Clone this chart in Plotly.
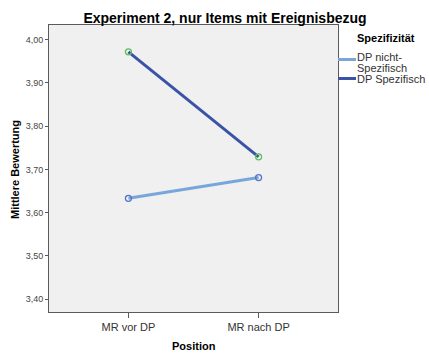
import plotly.graph_objects as go

# Data
positions = ["MR vor DP", "MR nach DP"]
series_names = ["DP nicht-<br>Spezifisch", "DP Spezifisch"]
values_nicht_spez = [3.633, 3.681]
values_spez = [3.972, 3.729]
line_colors = ["#79a6da", "#3b53a6"]
marker_colors = ["#5574c8", "#5cc05c"]
y_ticks = [3.4, 3.5, 3.6, 3.7, 3.8, 3.9, 4.0]

W, H = 429, 353
L, R, T, B = 49, 338, 25, 312
PW, PH = R - L, B - T

def px(x):
    return (x - L) / PW

def py(y):
    return (B - y) / PH

fig = go.Figure()
for name, vals, lc, mc in zip(series_names, [values_nicht_spez, values_spez], line_colors, marker_colors):
    fig.add_trace(go.Scatter(
        x=[0, 1], y=vals, mode="lines+markers", name=name,
        line=dict(color=lc, width=3),
        marker=dict(symbol="circle-open", size=6, color=mc, line=dict(width=1.3, color=mc)),
        showlegend=False,
    ))

font = "Liberation Sans, Arial, sans-serif"
fig.update_layout(
    width=W, height=H,
    margin=dict(l=L, r=W - R, t=T, b=H - B),
    paper_bgcolor="white", plot_bgcolor="#f0f0f0",
    separators=",.",
    font=dict(family=font, color="#333"),
    title=dict(text="<b>Experiment 2, nur Items mit Ereignisbezug</b>",
               font=dict(size=14, color="black", family=font),
               xref="container", x=225 / W, xanchor="center",
               yref="container", y=(H - 18) / H, yanchor="middle"),
    xaxis=dict(
        range=[-0.61, 1.61], tickvals=[0, 1], ticktext=positions,
        showgrid=False, zeroline=False,
        showline=True, linecolor="#5a5a5a", linewidth=1, mirror=True,
        ticks="outside", ticklen=5, tickcolor="#5a5a5a",
        tickfont=dict(size=11, color="#333", family=font),
    ),
    yaxis=dict(
        range=[3.37, 4.034], tickvals=y_ticks, tickformat=".2f",
        showgrid=False, zeroline=False,
        showline=True, linecolor="#5a5a5a", linewidth=1, mirror=True,
        ticks="outside", ticklen=3, tickcolor="#5a5a5a",
        tickfont=dict(size=9, color="#444", family=font),
    ),
)

# Axis titles
fig.add_annotation(text="<b>Position</b>", xref="paper", yref="paper",
                   x=px(194), y=py(346), showarrow=False,
                   font=dict(size=11, color="black", family=font),
                   xanchor="center", yanchor="middle")
fig.add_annotation(text="<b>Mittlere Bewertung</b>", xref="paper", yref="paper",
                   x=px(15), y=py(170), showarrow=False, textangle=-90,
                   font=dict(size=11, color="black", family=font),
                   xanchor="center", yanchor="middle")

# Legend (manual)
fig.add_annotation(text="<b>Spezifizität</b>", xref="paper", yref="paper",
                   x=px(355), y=py(38), showarrow=False,
                   font=dict(size=11, color="black", family=font),
                   xanchor="left", yanchor="middle")
leg_y = [59.5, 78.5]
text_y0 = [56.5, 78.5]
for name, lc, ly, ty in zip(series_names, line_colors, leg_y, text_y0):
    fig.add_shape(type="line", xref="paper", yref="paper",
                  x0=px(338), x1=px(356), y0=py(ly), y1=py(ly),
                  line=dict(color=lc, width=3))
    for i, part in enumerate(name.split("<br>")):
        fig.add_annotation(text=part, xref="paper", yref="paper",
                           x=px(355), y=py(ty + 11 * i), showarrow=False, align="left",
                           font=dict(size=11, color="#333", family=font),
                           xanchor="left", yanchor="middle")

fig.write_html("out.html", config={"displayModeBar": False},
               post_script="document.body.style.margin='0';document.body.style.padding='0';")
